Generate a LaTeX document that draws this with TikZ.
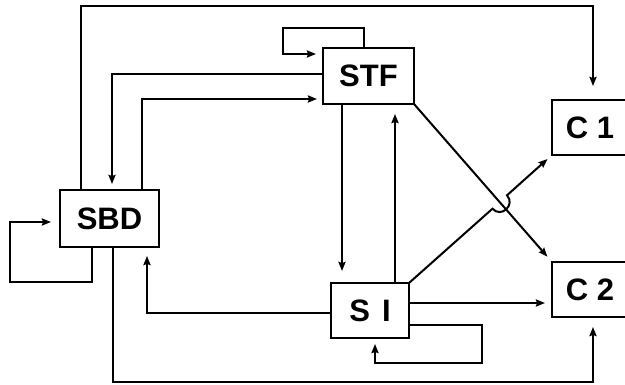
\documentclass[tikz,border=0pt]{standalone}
\usepackage{fontspec}
\setmainfont{Liberation Sans}
\usetikzlibrary{arrows.meta}
\begin{document}
\begin{tikzpicture}[x=1pt,y=-1pt,
  box/.style={draw,line width=2pt,inner sep=0pt,outer sep=0pt,font=\fontsize{31}{33}\selectfont\bfseries},
  conn/.style={line width=2pt,line join=miter},
  arr/.style={conn,-{Stealth[length=9pt,width=7pt,inset=1pt]}}]
\useasboundingbox (0,0) rectangle (625,385);
% boxes
\node[box,minimum width=99pt,minimum height=57pt] (SBD) at (109.5,218.5) {SBD};
\node[box,minimum width=91pt,minimum height=56pt] (STF) at (368.5,76) {STF};
\node[box,minimum width=78pt,minimum height=55pt] (SI) at (370,310.5) {S\hspace{12pt}I};
\node[box,minimum width=76pt,minimum height=55pt] (C1) at (590,127.5) {C 1};
\node[box,minimum width=76pt,minimum height=55pt] (C2) at (590,289.5) {C 2};
% corner coordinates
\coordinate (p1a) at (81,6); \coordinate (p1b) at (593,6);
\coordinate (p2a) at (112,74);
\coordinate (p3a) at (142,99);
\coordinate (p4a) at (364,28); \coordinate (p4b) at (283,28); \coordinate (p4c) at (283,54);
\coordinate (p5) at (342,0);
\coordinate (p6) at (395,0);
\coordinate (p9) at (147,313);
\coordinate (p10) at (0,303);
\coordinate (p11a) at (482,325); \coordinate (p11b) at (482,363); \coordinate (p11c) at (375,363);
\coordinate (p12a) at (113,382); \coordinate (p12b) at (593,382);
\coordinate (p13a) at (92,282); \coordinate (p13b) at (10,282); \coordinate (p13c) at (10,222);
\coordinate (h1) at (492.5,208.7); \coordinate (h1c) at (501.2,218.4);
\coordinate (h2c) at (515.7,205); \coordinate (h2) at (507,195.3);
% connectors
\draw[arr,shorten >=14pt] (SBD.north -| p1a) -- (p1a) -- (p1b) -- (C1.north -| p1b);
\draw[arr,shorten >=6pt] (STF.west |- p2a) -- (p2a) -- (SBD.north -| p2a);
\draw[arr,shorten >=6pt] (SBD.north -| p3a) -- (p3a) -- (STF.west |- p3a);
\draw[arr,shorten >=7pt] (STF.north -| p4a) -- (p4a) -- (p4b) -- (p4c) -- (STF.west |- p4c);
\draw[arr,shorten >=12pt] (STF.south -| p5) -- (SI.north -| p5);
\draw[arr,shorten >=10pt] (SI.north -| p6) -- (STF.south -| p6);
\draw[arr,shorten >=7pt] (STF.south east) -- (C2.north west);
\draw[arr,shorten >=6pt] (SI.north east) -- (h1) .. controls (h1c) and (h2c) .. (h2) -- (C1.south west);
\draw[arr,shorten >=9pt] (SI.west |- p9) -- (p9) -- (SBD.south -| p9);
\draw[arr,shorten >=7pt] (SI.east |- p10) -- (C2.west |- p10);
\draw[arr,shorten >=6pt] (SI.east |- p11a) -- (p11a) -- (p11b) -- (p11c) -- (SI.south -| p11c);
\draw[arr,shorten >=10pt] (SBD.south -| p12a) -- (p12a) -- (p12b) -- (C2.south -| p12b);
\draw[arr,shorten >=9pt] (SBD.south -| p13a) -- (p13a) -- (p13b) -- (p13c) -- (SBD.west |- p13c);
\end{tikzpicture}
\end{document}
